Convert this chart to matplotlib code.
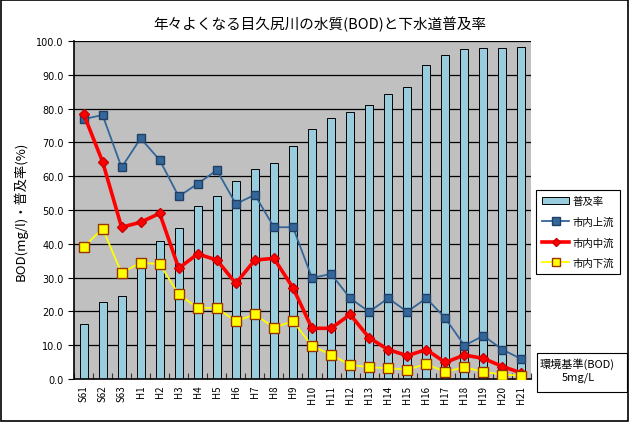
import numpy as np
import matplotlib.pyplot as plt
from matplotlib.patches import Rectangle, Patch
from matplotlib.lines import Line2D

plt.rcParams['font.family'] = ['Noto Sans CJK JP', 'DejaVu Sans']

# --- データ ---
nendo = ['S61', 'S62', 'S63', 'H1', 'H2', 'H3', 'H4', 'H5', 'H6', 'H7', 'H8', 'H9',
         'H10', 'H11', 'H12', 'H13', 'H14', 'H15', 'H16', 'H17', 'H18', 'H19', 'H20', 'H21']
fukyuritsu = [16.3, 22.8, 24.6, 35.8, 40.9, 44.7, 51.1, 54.0, 58.5, 62.2, 63.8, 68.9,
              73.9, 77.1, 78.9, 81.2, 84.3, 86.5, 92.9, 95.9, 97.6, 97.9, 97.9, 98.1]
joryu = [76.9, 78.1, 62.6, 71.2, 64.8, 54.0, 57.8, 61.8, 51.8, 54.5, 44.9, 44.9,
         29.9, 31.1, 23.9, 19.9, 23.9, 19.9, 23.9, 18.0, 9.9, 12.8, 8.7, 5.9]
churyu = [78.5, 64.3, 44.9, 46.4, 49.0, 32.8, 37.0, 35.2, 28.3, 35.2, 35.7, 27.0,
          15.0, 15.0, 19.1, 12.2, 8.7, 6.9, 8.7, 4.9, 7.1, 6.1, 3.7, 1.8]
karyu = [39.0, 44.5, 31.4, 34.4, 34.0, 25.1, 21.0, 21.0, 17.1, 19.1, 15.2, 17.1,
         9.8, 7.2, 4.2, 3.5, 3.2, 2.8, 4.4, 2.1, 3.5, 2.1, 1.3, 1.0]

x = np.arange(len(nendo))

fig = plt.figure(figsize=(6.4, 4.35), dpi=100)
ax = fig.add_axes([0.1156, 0.1264, 0.7141, 0.777])
ax.set_facecolor('#C0C0C0')

# グリッド(横線)
for v in range(10, 101, 10):
    ax.axhline(v, color='black', lw=0.9, zorder=1)

ax.bar(x, fukyuritsu, width=0.42, color='#99CCDD', edgecolor='black', lw=0.7, zorder=2)
ax.plot(x, joryu, color='#336699', lw=1.3, marker='s', ms=6,
        mfc='#336699', mec='#1F3F66', zorder=3)
ax.plot(x, churyu, color='#FF0000', lw=2.6, marker='D', ms=5,
        mfc='#FF0000', mec='#CC0000', zorder=4)
ax.plot(x, karyu, color='#FFFF00', lw=1.3, marker='s', ms=6.5,
        mfc='#FFFF00', mec='#993300', zorder=5)

ax.set_xlim(-0.5, len(nendo) - 0.5)
ax.set_ylim(0, 100)
ax.set_yticks(np.arange(0, 101, 10))
ax.set_yticklabels([f'{v:.1f}' for v in range(0, 101, 10)], fontsize=7,
                   family='Liberation Sans Narrow')
ax.set_xticks(x)
ax.set_xticklabels(nendo, rotation=90, fontsize=7)
ax.set_xticks(np.arange(-0.5, len(nendo), 1), minor=True)
ax.tick_params(axis='x', which='major', length=0, pad=4)
ax.tick_params(axis='x', which='minor', direction='in', length=4, width=0.8, color='#333333')
ax.tick_params(axis='y', length=4, width=0.8)
for s in ['top', 'right']:
    ax.spines[s].set_visible(False)
ax.spines['left'].set_linewidth(1.2)
ax.spines['bottom'].set_linewidth(1.2)

ax.set_ylabel('BOD(mg/l)・普及率(%)', fontsize=9.5, labelpad=6)
fig.text(0.5, 0.945, '年々よくなる目久尻川の水質(BOD)と下水道普及率',
         ha='center', va='center', fontsize=10.5)

# 凡例
handles = [Patch(facecolor='#99CCDD', edgecolor='black', lw=0.7),
           Line2D([], [], color='#336699', lw=1.3, marker='s', ms=6,
                  mfc='#336699', mec='#1F3F66'),
           Line2D([], [], color='#FF0000', lw=2.6, marker='D', ms=4,
                  mfc='#FF0000', mec='#CC0000'),
           Line2D([], [], color='#FFFF00', lw=1.3, marker='s', ms=6,
                  mfc='#FFFF00', mec='#993300')]
leg = fig.legend(handles, ['普及率', '市内上流', '市内中流', '市内下流'],
                 loc='upper left', bbox_to_anchor=(0.8375, 0.561), fontsize=7.5,
                 fancybox=False, edgecolor='black', framealpha=1,
                 handlelength=2.6, handletextpad=0.3, labelspacing=1.0,
                 borderpad=0.6, borderaxespad=0)
leg.get_frame().set_linewidth(0.8)

# 環境基準ボックス
fig.patches.append(Rectangle((537 / 640, 1 - 393 / 435), 90 / 640, 39 / 435,
                             transform=fig.transFigure, fill=False,
                             edgecolor='black', lw=0.8))
fig.text(540 / 640, 1 - 364 / 435, '環境基準(BOD)', fontsize=8, va='center')
fig.text(578 / 640, 1 - 378 / 435, '5mg/L', fontsize=8, va='center', ha='center')

# 外枠
fig.patches.append(Rectangle((1 / 640, 1 - 422 / 435), 627 / 640, 421 / 435,
                             transform=fig.transFigure, fill=False,
                             edgecolor='black', lw=1.2))

fig.savefig('out.png', dpi=100)
